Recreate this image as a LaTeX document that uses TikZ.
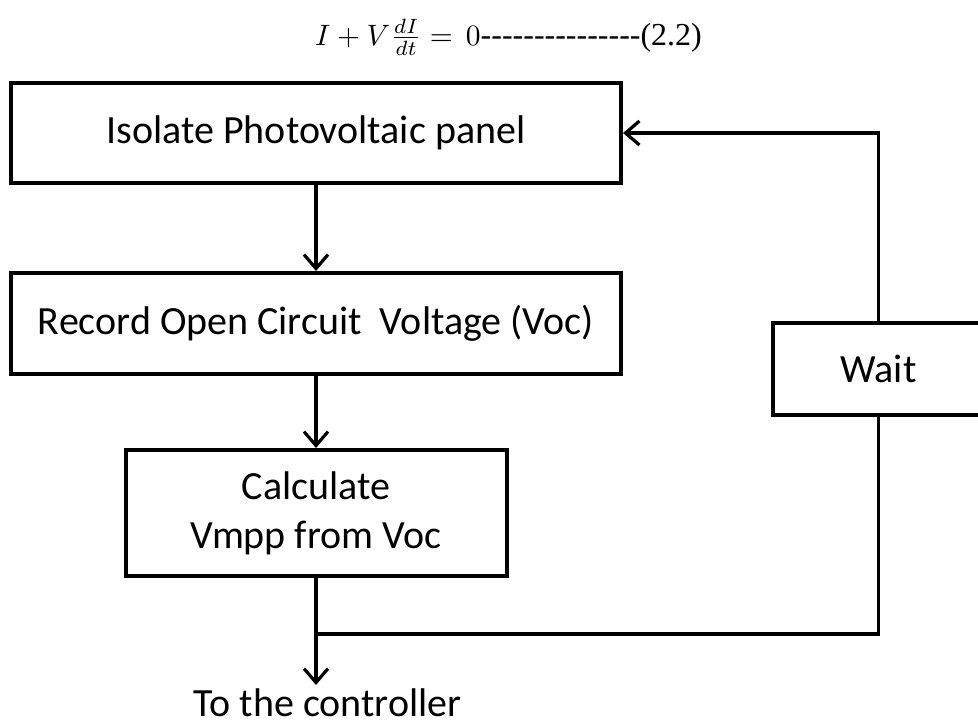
\documentclass[tikz,border=0pt]{standalone}
\usepackage{graphicx}
\usepackage{fontspec}
\usetikzlibrary{arrows.meta,positioning}
\setmainfont{Carlito}
\newfontfamily\eqfont{Liberation Serif}
\tikzstyle{flow-box} = [draw=black, line width=4pt, rectangle,
    inner sep=0pt, align=center, font=\fontsize{40}{49}\selectfont]
\tikzstyle{flow-text} = [inner sep=0pt, font=\fontsize{40}{49}\selectfont]
\tikzstyle{flow-line} = [draw=black, line width=3.2pt]
\tikzstyle{flow-arrow} = [flow-line, -{Straight Barb[length=14pt,width=24pt]}]
\newcommand{\eqdashes}{\foreach \k in {1,...,15}{-\kern0pt}}

\begin{document}
\begin{tikzpicture}[x=1pt,y=-1pt]
\clip (0,0) rectangle (978,726);
\node[anchor=base west, inner sep=0pt] (eq) at (315,45) {%
    \scalebox{2.95}{\fontsize{10}{12}\selectfont$I+V\frac{dI}{dt}=\,0$}%
    \eqfont\fontsize{32}{38}\selectfont\eqdashes(2.2)};
\node[flow-box, minimum width=610pt, minimum height=100pt] (isolate) at (316,133) {Isolate Photovoltaic panel};
\node[flow-box, minimum width=610pt, minimum height=101pt] (record) at (316,323.5) {Record Open Circuit\ \ Voltage (Voc)};
\node[flow-box, minimum width=381pt, minimum height=126pt] (calc) at (316,513) {Calculate\\Vmpp from Voc};
\node[flow-box, minimum width=211pt, minimum height=92pt] (wait) at (878.5,369) {Wait};
\node[flow-text, anchor=base] (controller) at (327.5,716) {To the controller};
\coordinate (join) at (316,634);
\draw[flow-arrow] (isolate) -- (record);
\draw[flow-arrow] (record) -- (calc);
\draw[flow-line] (calc) -- (join);
\draw[flow-arrow] (join) -- ([yshift=3pt]join |- controller.north);
\draw[flow-line] (wait) |- (join);
\draw[flow-arrow] (wait) |- (isolate);
\end{tikzpicture}
\end{document}
